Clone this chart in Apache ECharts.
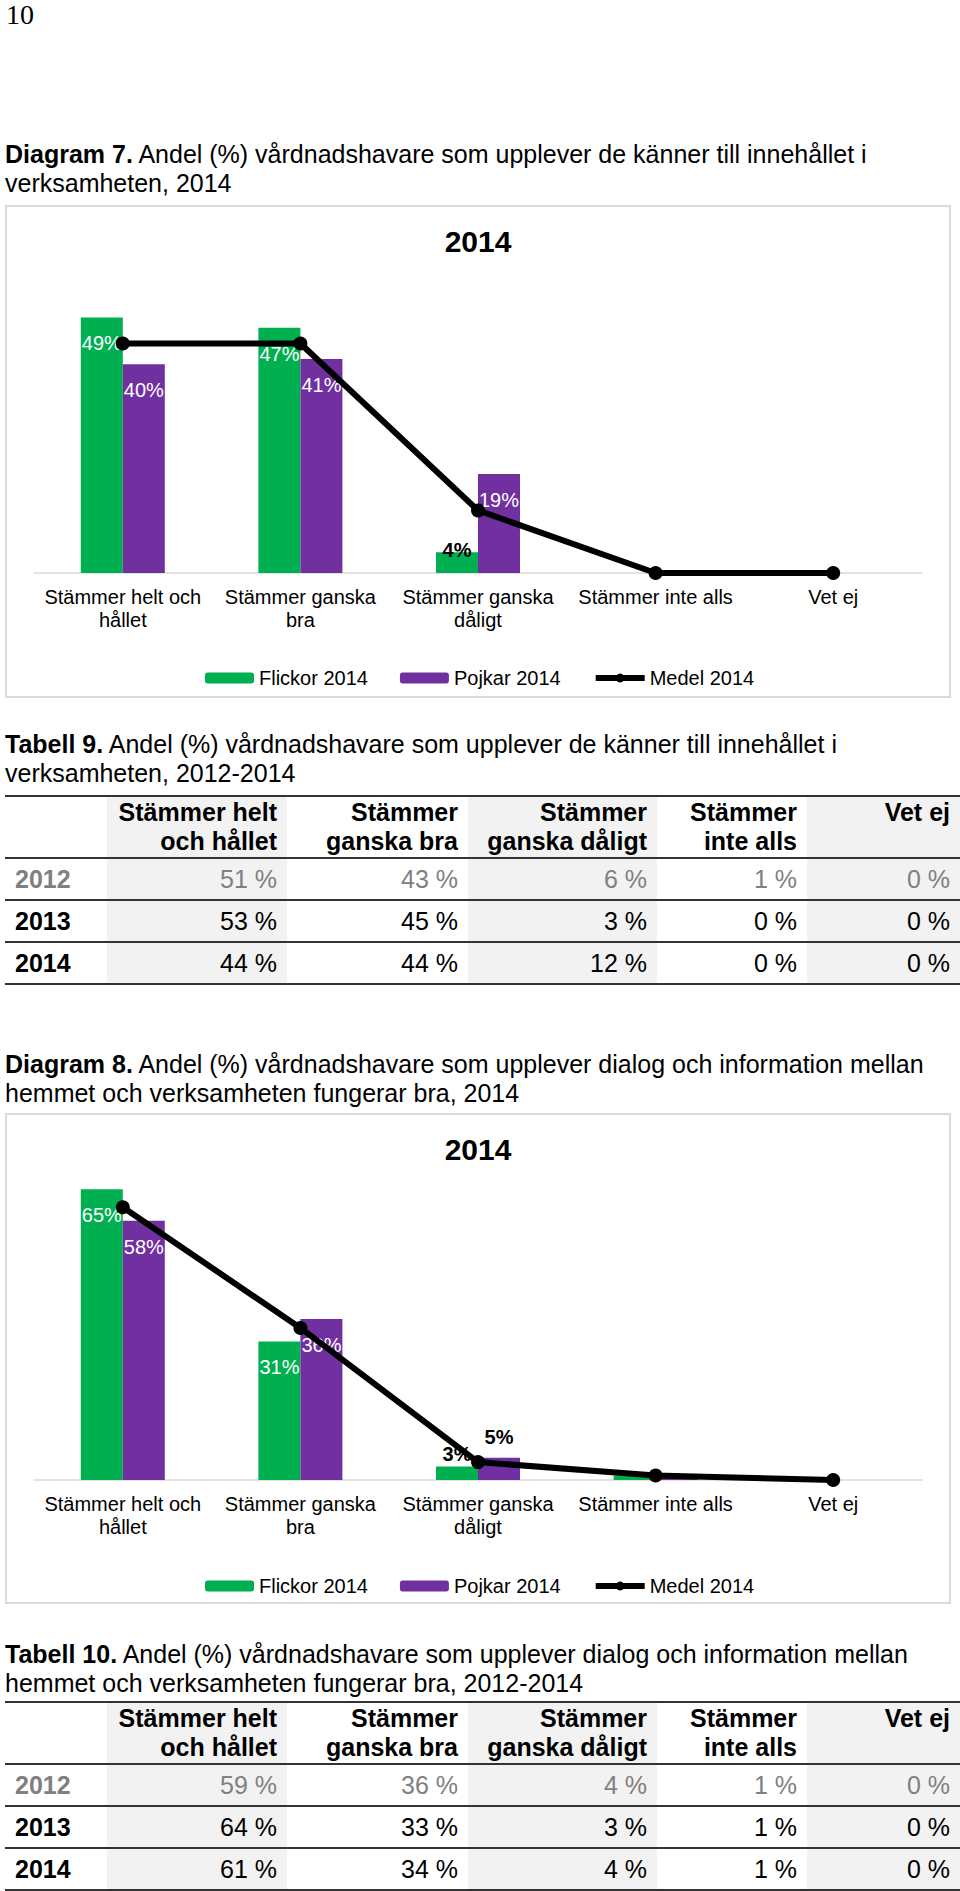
<!DOCTYPE html>
<html>
<head>
<meta charset="utf-8">
<script src="https://cdn.jsdelivr.net/npm/echarts/dist/echarts.min.js"></script>
<style>
  html, body { margin: 0; padding: 0; background: #fff; }
  body { width: 960px; height: 1891px; position: relative; overflow: hidden;
         font-family: "Liberation Sans", Arial, Helvetica, sans-serif; color: #000; }
  .pnum { position: absolute; left: 6px; top: 1px; font-family: "Liberation Serif", "Times New Roman", serif;
          font-size: 28px; line-height: 28px; }
  .cap { position: absolute; left: 5px; font-size: 25px; line-height: 29px; white-space: nowrap; }
  .cap b { font-weight: bold; }
  .box { position: absolute; border: 2px solid #d9d9d9; box-sizing: border-box; }
  .chart { position: absolute; }
  table.t { position: absolute; left: 5px; border-collapse: collapse; font-size: 25px; table-layout: fixed; width: 955px; }
  table.t td, table.t th { padding: 0 10px 0 10px; text-align: right; white-space: nowrap; }
  table.t th { font-weight: bold; vertical-align: top; line-height: 29px; height: 59px; padding-top: 1px; }
  table.t td { height: 40px; line-height: 40px; }
  table.t td.yr { text-align: left; font-weight: bold; }
  table.t tr.head th { border-top: 2px solid #333; border-bottom: 2px solid #333; }
  table.t tr.r td { border-bottom: 2px solid #333; }
  table.t .g { background: #f2f2f2; }
  table.t tr.old td { color: #808080; }
</style>
</head>
<body>
<div class="pnum">10</div>

<div class="cap" style="top:140px"><b>Diagram 7.</b> Andel (%) vårdnadshavare som upplever de känner till innehållet i<br>verksamheten, 2014</div>
<div class="box" style="left:5px;top:205px;width:946px;height:493px"></div>
<div id="c1" class="chart" style="left:5px;top:205px;width:946px;height:493px"></div>

<div class="cap" style="top:730px"><b>Tabell 9.</b> Andel (%) vårdnadshavare som upplever de känner till innehållet i<br>verksamheten, 2012-2014</div>
<table class="t" id="t9" style="top:795px"></table>

<div class="cap" style="top:1050px"><b>Diagram 8.</b> Andel (%) vårdnadshavare som upplever dialog och information mellan<br>hemmet och verksamheten fungerar bra, 2014</div>
<div class="box" style="left:5px;top:1113px;width:946px;height:491px"></div>
<div id="c2" class="chart" style="left:5px;top:1113px;width:946px;height:491px"></div>

<div class="cap" style="top:1640px"><b>Tabell 10.</b> Andel (%) vårdnadshavare som upplever dialog och information mellan<br>hemmet och verksamheten fungerar bra, 2012-2014</div>
<table class="t" id="t10" style="top:1701px"></table>

<script>
// ---- data ----
const tickLabels = ['Stämmer helt och\nhållet', 'Stämmer ganska\nbra', 'Stämmer ganska\ndåligt', 'Stämmer inte alls', 'Vet ej'];
const seriesNames = ['Flickor 2014', 'Pojkar 2014', 'Medel 2014'];
const chartTitle = '2014';

const flickor7 = [49, 47, 4, 0, 0];
const pojkar7  = [40, 41, 19, 0, 0];
const medel7   = [44, 44, 12, 0, 0];

const flickor8 = [65, 31, 3, 1, 0];
const pojkar8  = [58, 36, 5, 1, 0];
const medel8   = [61, 34, 4, 1, 0];

const tableHeaders = ['Stämmer helt<br>och hållet', 'Stämmer<br>ganska bra', 'Stämmer<br>ganska dåligt', 'Stämmer<br>inte alls', 'Vet ej'];
const tableYears = ['2012', '2013', '2014'];
const table9 = [[51, 43, 6, 1, 0], [53, 45, 3, 0, 0], [44, 44, 12, 0, 0]];
const table10 = [[59, 36, 4, 1, 0], [64, 33, 3, 1, 0], [61, 34, 4, 1, 0]];

// ---- tables ----
const colWidths = [102, 180, 181, 189, 150, 153];
function buildTable(id, rows) {
  const t = document.getElementById(id);
  let h = '<colgroup>' + colWidths.map(w => '<col style="width:' + w + 'px">').join('') + '</colgroup>';
  h += '<tr class="head"><th></th>' + tableHeaders.map((x, i) => '<th class="' + (i % 2 === 0 ? 'g' : '') + '">' + x + '</th>').join('') + '</tr>';
  rows.forEach((r, ri) => {
    h += '<tr class="r' + (ri === 0 ? ' old' : '') + '"><td class="yr">' + tableYears[ri] + '</td>' +
      r.map((v, i) => '<td class="' + (i % 2 === 0 ? 'g' : '') + '">' + v + ' %</td>').join('') + '</tr>';
  });
  t.innerHTML = h;
}
buildTable('t9', table9);
buildTable('t10', table10);

// ---- charts ----
const GREEN = '#00B050', PURPLE = '#7030A0';
const FONT = '"Liberation Sans", Arial, Helvetica, sans-serif';

function barData(values, smallDist) {
  return values.map(v => {
    if (v < 2) return { value: v, label: { show: false } };
    if (v < 10) return { value: v, label: { position: 'top', distance: smallDist, color: '#000', fontWeight: 'bold' } };
    return v;
  });
}

function makeOption(f, p, m, yMax, gridTop, gridBottom, smallDistF, smallDistP) {
  const barLabel = { show: true, position: 'insideTop', distance: 16, color: '#fff', fontSize: 20,
                     fontFamily: FONT, formatter: '{c}%' };
  return {
    animation: false,
    textStyle: { fontFamily: FONT },
    title: { text: chartTitle, left: 'center', top: 21, padding: 0,
             textStyle: { fontSize: 30, fontWeight: 'bold', color: '#000', fontFamily: FONT } },
    legend: { left: 200, top: 463, padding: 0, itemWidth: 49, itemHeight: 11, itemGap: 32,
              textStyle: { fontSize: 20, color: '#000', fontFamily: FONT },
              data: [
                { name: seriesNames[0] },
                { name: seriesNames[1] },
                { name: seriesNames[2], lineStyle: { width: 6, color: '#000' } }
              ] },
    grid: { left: 29, right: 29, top: gridTop, bottom: gridBottom, containLabel: false },
    xAxis: { type: 'category', data: tickLabels,
             axisLine: { lineStyle: { color: '#d9d9d9', width: 1.5 } },
             axisTick: { show: false },
             axisLabel: { interval: 0, fontSize: 20, lineHeight: 23, margin: 12, color: '#000', fontFamily: FONT } },
    yAxis: { type: 'value', min: 0, max: yMax, show: false, splitLine: { show: false } },
    series: [
      { name: seriesNames[0], type: 'bar', data: barData(f, smallDistF), barWidth: 42, barGap: '0%',
        itemStyle: { color: GREEN }, label: barLabel },
      { name: seriesNames[1], type: 'bar', data: barData(p, smallDistP), barWidth: 42, barGap: '0%',
        itemStyle: { color: PURPLE }, label: barLabel },
      { name: seriesNames[2], type: 'line', data: m, symbol: 'circle', symbolSize: 14, z: 5,
        lineStyle: { color: '#000', width: 6 }, itemStyle: { color: '#000' } }
    ]
  };
}

const c1 = echarts.init(document.getElementById('c1'), null, { renderer: 'svg' });
c1.setOption(makeOption(flickor7, pojkar7, medel7, 60, 55, 125, -8, 3));
const c2 = echarts.init(document.getElementById('c2'), null, { renderer: 'svg' });
c2.setOption(makeOption(flickor8, pojkar8, medel8, 70, 54, 124, 3, 11));
</script>
</body>
</html>
